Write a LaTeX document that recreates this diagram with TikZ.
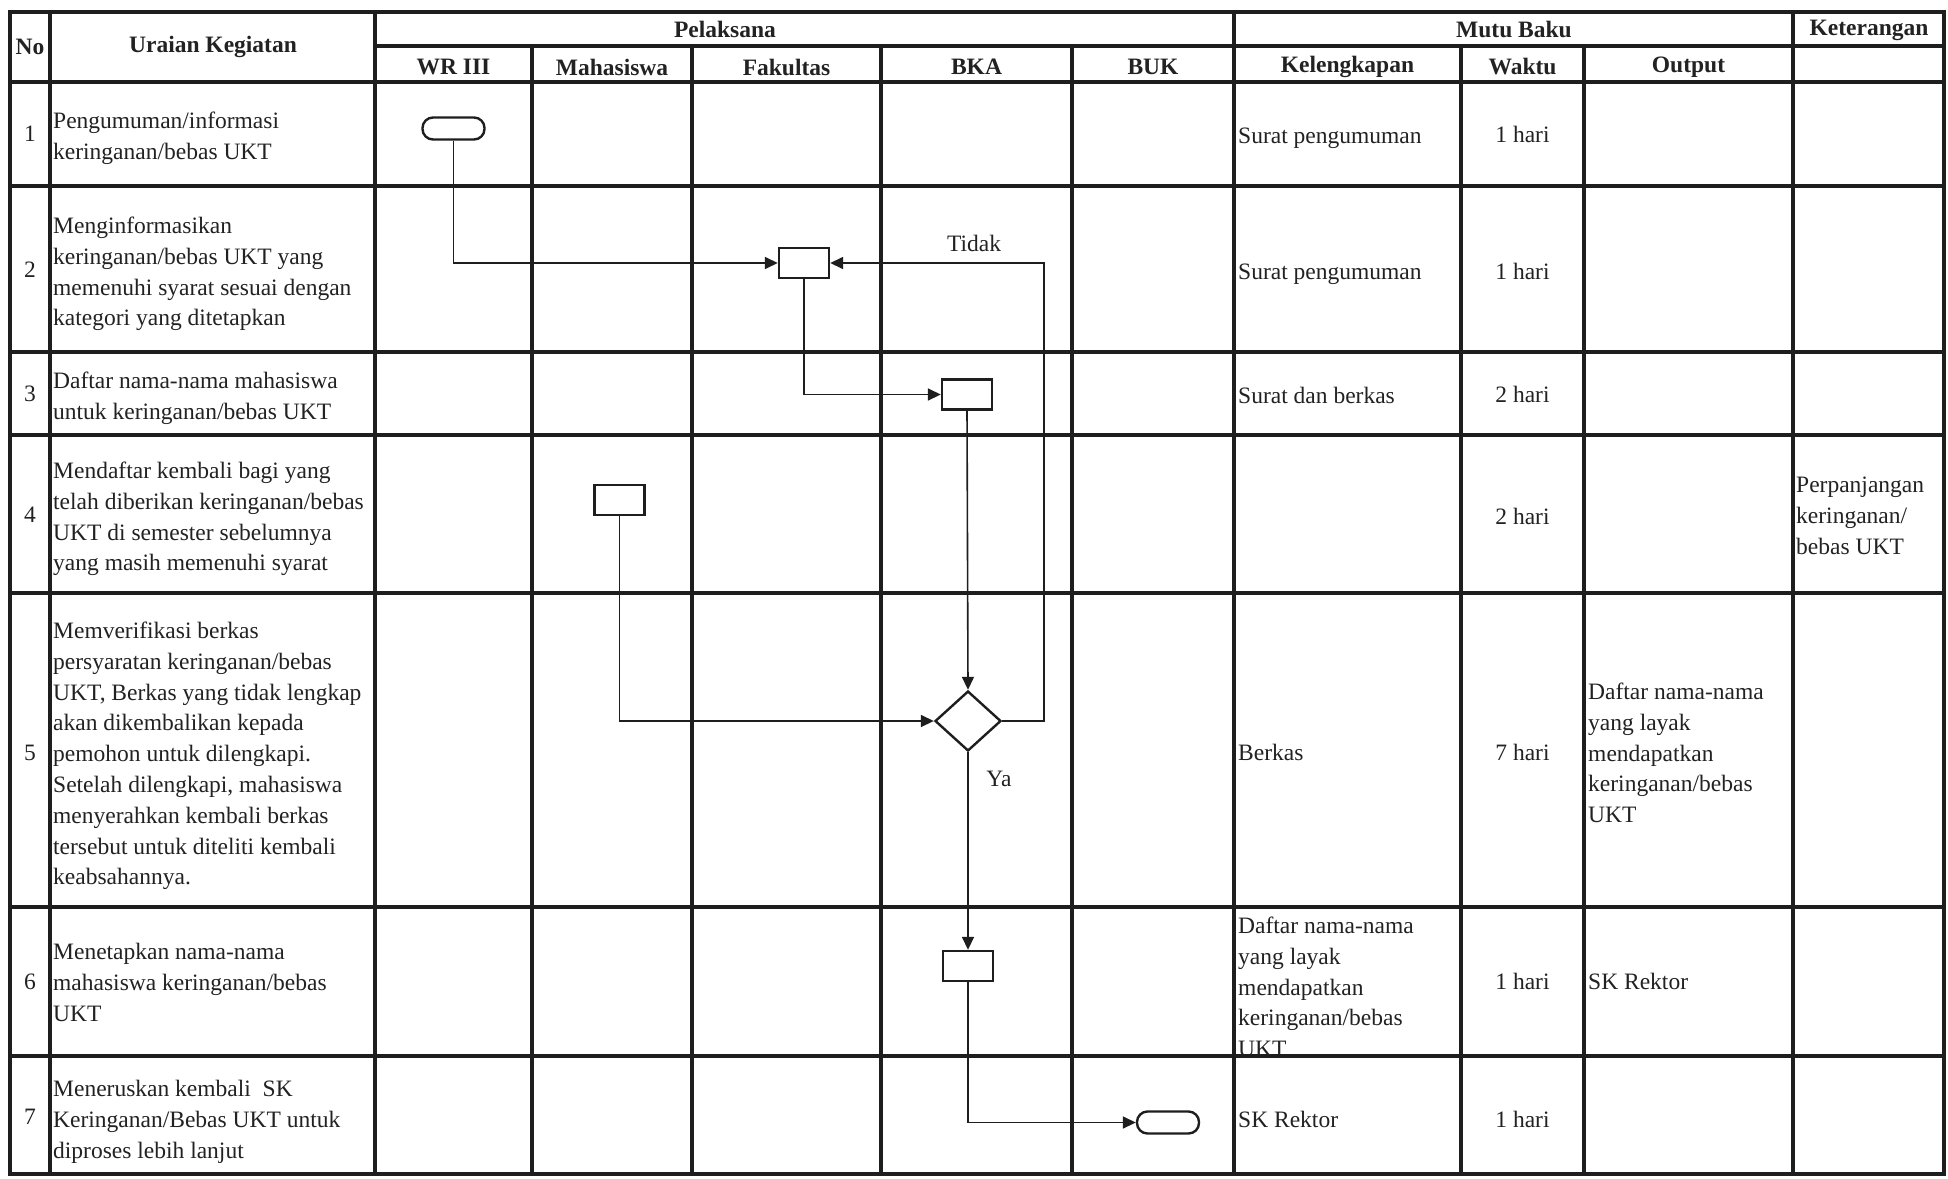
\documentclass[tikz,border=0pt]{standalone}
\usepackage{fontspec}
\setmainfont{Liberation Serif}
\usetikzlibrary{arrows.meta,shapes.geometric}
\definecolor{ink}{HTML}{1E1E1E}
\definecolor{txtc}{HTML}{222222}
\begin{document}
\begin{tikzpicture}[x=1pt,y=-1pt,
  font=\fontsize{23.5}{30.8}\selectfont,
  gridline/.style={draw=ink,line width=3.6pt},
  shp/.style={draw=ink,line width=2.4pt,fill=white},
  boxn/.style={shp,minimum width=50pt,minimum height=30pt,inner sep=0pt},
  termn/.style={shp,rounded corners=10.5pt,minimum width=62pt,minimum height=22pt,inner sep=0pt},
  decn/.style={shp,diamond,minimum width=66pt,minimum height=60pt,inner sep=0pt},
  conn/.style={draw=ink,line width=1.6pt,-{Triangle[length=13pt,width=12pt]}},
  txt/.style={anchor=west,align=left,inner sep=0pt,text=txtc},
  ctr/.style={anchor=center,align=center,inner sep=0pt,text=txtc},
  hdr/.style={ctr,font=\fontsize{23.5}{28}\selectfont\bfseries}
]
\useasboundingbox (0,0) rectangle (1948,1178);
\fill[white] (0,0) rectangle (1948,1178);

% ---------- table grid ----------
\draw[gridline,line join=miter] (10,12) rectangle (1944,1174);
\draw[gridline] (375,46) -- (1944,46);
\foreach \yy in {82,186,352,435,593,907,1056}
  \draw[gridline] (10,\yy) -- (1944,\yy);
\foreach \xx in {50,375,1234,1793}
  \draw[gridline] (\xx,12) -- (\xx,1174);
\foreach \xx in {532,692,881,1072,1461,1584}
  \draw[gridline] (\xx,46) -- (\xx,1174);

% ---------- headers ----------
\node[hdr] (hNo) at (30,47) {No};
\node[hdr] (hUr) at (213,47) {Uraian Kegiatan};
\node[hdr] (hPel) at (725,29) {Pelaksana};
\node[hdr] (hMutu) at (1514,29) {Mutu Baku};
\node[hdr] (hKet) at (1869,30) {Keterangan};
\node[hdr] (hWR) at (453.5,67) {WR III};
\node[hdr] (hMhs) at (612,67) {Mahasiswa};
\node[hdr] (hFak) at (786.5,67) {Fakultas};
\node[hdr] (hBKA) at (976.5,67) {BKA};
\node[hdr] (hBUK) at (1153,67) {BUK};
\node[hdr] (hKel) at (1347.5,67) {Kelengkapan};
\node[hdr] (hWak) at (1522.5,67) {Waktu};
\node[hdr] (hOut) at (1688.5,67) {Output};

% ---------- numbers ----------
\node[ctr] (n1) at (30,134) {1};
\node[ctr] (n2) at (30,270) {2};
\node[ctr] (n3) at (30,394) {3};
\node[ctr] (n4) at (30,515) {4};
\node[ctr] (n5) at (30,753) {5};
\node[ctr] (n6) at (30,982) {6};
\node[ctr] (n7) at (30,1117) {7};

% ---------- uraian kegiatan ----------
\node[txt] (u1) at (53,138) {Pengumuman/informasi\\keringanan/bebas UKT};
\node[txt] (u2) at (53,274) {Menginformasikan\\keringanan/bebas UKT yang\\memenuhi syarat sesuai dengan\\kategori yang ditetapkan};
\node[txt] (u3) at (53,398) {Daftar nama-nama mahasiswa\\untuk keringanan/bebas UKT};
\node[txt] (u4) at (53,519) {Mendaftar kembali bagi yang\\telah diberikan keringanan/bebas\\UKT di semester sebelumnya\\yang masih memenuhi syarat};
\node[txt] (u5) at (53,756) {Memverifikasi berkas\\persyaratan keringanan/bebas\\UKT, Berkas yang tidak lengkap\\akan dikembalikan kepada\\pemohon untuk dilengkapi.\\Setelah dilengkapi, mahasiswa\\menyerahkan kembali berkas\\tersebut untuk diteliti kembali\\keabsahannya.};
\node[txt] (u6) at (53,982.5) {Menetapkan nama-nama\\mahasiswa keringanan/bebas\\UKT};
\node[txt] (u7) at (53,1122) {Meneruskan kembali\ \ SK\\Keringanan/Bebas UKT untuk\\diproses lebih lanjut};

% ---------- kelengkapan ----------
\node[txt] (k1) at (1238,138) {Surat pengumuman};
\node[txt] (k2) at (1238,274) {Surat pengumuman};
\node[txt] (k3) at (1238,395) {Surat dan berkas};
\node[txt] (k5) at (1238,752) {Berkas};
\begin{scope}
  \clip (1236,909) rectangle (1459,1054);
  \node[txt] (k6) at (1238,987) {Daftar nama-nama\\yang layak\\mendapatkan\\keringanan/bebas\\UKT};
\end{scope}
\node[txt] (k7) at (1238,1119) {SK Rektor};

% ---------- waktu ----------
\node[ctr] (w1) at (1522.5,134) {1 hari};
\node[ctr] (w2) at (1522.5,271) {1 hari};
\node[ctr] (w3) at (1522.5,394) {2 hari};
\node[ctr] (w4) at (1522.5,516) {2 hari};
\node[ctr] (w5) at (1522.5,752) {7 hari};
\node[ctr] (w6) at (1522.5,981.5) {1 hari};
\node[ctr] (w7) at (1522.5,1119) {1 hari};

% ---------- output ----------
\node[txt] (o5) at (1588,753) {Daftar nama-nama\\yang layak\\mendapatkan\\keringanan/bebas\\UKT};
\node[txt] (o6) at (1588,981.5) {SK Rektor};

% ---------- keterangan ----------
\node[txt] (ket4) at (1796,516) {Perpanjangan\\keringanan/\\bebas UKT};

% ---------- flow shapes ----------
\node[termn] (t1) at (453.5,128.5) {};
\node[boxn] (b2) at (804,263) {};
\node[boxn] (b3) at (967,394.5) {};
\node[boxn] (b4) at (619.5,500) {};
\node[decn] (d5) at (968,721) {};
\node[boxn] (b6) at (968,966) {};
\node[termn] (t7) at (1168,1122.5) {};
\coordinate (tk) at (1044,721);

% ---------- connectors ----------
\draw[conn] (t1.south) |- (b2.west);
\draw[conn] (b2.south) |- (b3.west);
\draw[conn] (b3.south) -- (d5.north);
\draw[conn] (b4.south) |- (d5.west);
\draw[conn] (d5.east) -- (tk) |- (b2.east);
\draw[conn] (d5.south) -- (b6.north);
\draw[conn] (b6.south) |- (t7.west);

\node[ctr] (lTidak) at (974,243) {Tidak};
\node[ctr] (lYa) at (999,779) {Ya};
\end{tikzpicture}
\end{document}
